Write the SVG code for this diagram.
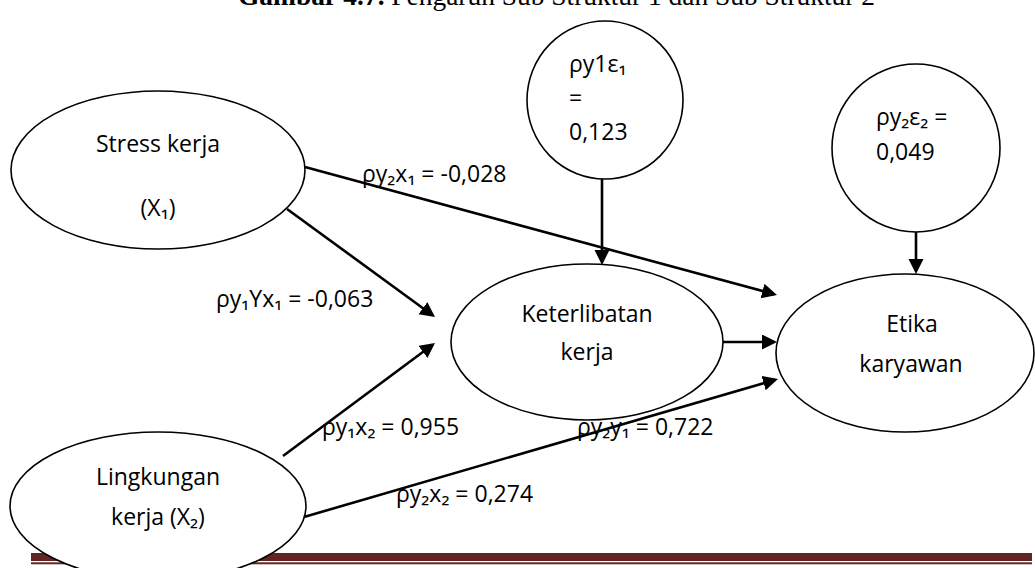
<svg xmlns="http://www.w3.org/2000/svg" width="1035" height="568" viewBox="0 0 1035 568">
<defs>
<marker id="ah" markerUnits="userSpaceOnUse" viewBox="0 0 16 16" markerWidth="16" markerHeight="16" refX="12" refY="7.5" orient="auto"><path d="M0,0 L15,7.5 L0,15 z" fill="#000"/></marker>
</defs>
<style>
.n{fill:#fff;stroke:#000;stroke-width:1.6}
.t{font-family:"Open Sans","Noto Sans",sans-serif;font-size:23px;fill:#000}
.m{text-anchor:middle}
.c{stroke:#000;stroke-width:2.6;fill:none;marker-end:url(#ah)}
.bar{fill:#632524}
</style>
<rect width="1035" height="568" fill="#fff"/>
<text id="title" x="238" y="5" textLength="637" lengthAdjust="spacingAndGlyphs" style="font-family:'Liberation Serif','Times New Roman',serif;font-size:27.7px;fill:#000"><tspan font-weight="bold">Gambar 4.7.</tspan> Pengaruh Sub Struktur 1 dan Sub Struktur 2</text>
<g id="footer-rule">
<rect class="bar" x="31" y="553" width="1001" height="8"/>
<rect class="bar" x="31" y="562.3" width="1001" height="2"/>
</g>
<g id="node-stress">
<ellipse class="n" cx="158" cy="170" rx="147" ry="79"/>
<text class="t m" x="158" y="152">Stress kerja</text>
<text class="t m" x="158" y="216">(X₁)</text>
</g>
<g id="node-lingkungan">
<ellipse class="n" cx="158" cy="506" rx="148" ry="74"/>
<text class="t m" x="158" y="485">Lingkungan</text>
<text class="t m" x="158" y="525">kerja (X₂)</text>
</g>
<g id="node-keterlibatan">
<ellipse class="n" cx="587" cy="342" rx="136" ry="78"/>
<text class="t m" x="587" y="322">Keterlibatan</text>
<text class="t m" x="587" y="360">kerja</text>
</g>
<g id="node-etika">
<ellipse class="n" cx="905" cy="353" rx="129" ry="79"/>
<text class="t m" x="912" y="332">Etika</text>
<text class="t m" x="911" y="372">karyawan</text>
</g>
<g id="node-e1">
<ellipse class="n" cx="605" cy="100" rx="78" ry="79"/>
<text class="t" x="569" y="72">ρy1ε₁</text>
<text class="t" x="569" y="106">=</text>
<text class="t" x="569" y="140">0,123</text>
</g>
<g id="node-e2">
<ellipse class="n" cx="916" cy="148" rx="84" ry="84"/>
<text class="t" x="876" y="125">ρy₂ε₂ =</text>
<text class="t" x="876" y="160">0,049</text>
</g>
<g id="connectors">
<line class="c" x1="287" y1="209" x2="432.6" y2="315.2"/>
<line class="c" x1="305" y1="167" x2="774.1" y2="294.2"/>
<line class="c" x1="283" y1="456" x2="432.6" y2="344.8"/>
<line class="c" x1="304" y1="517" x2="775.1" y2="379.8"/>
<line class="c" x1="723" y1="342" x2="774" y2="342"/>
<line class="c" x1="602" y1="179" x2="602" y2="262"/>
<line class="c" x1="916" y1="232" x2="916" y2="271"/>
</g>
<g id="connector-labels">
<text class="t" x="362" y="182">ρy₂x₁ = -0,028</text>
<text class="t" x="216" y="307">ρy₁Yx₁ = -0,063</text>
<text class="t" x="322" y="435">ρy₁x₂ = 0,955</text>
<text class="t" x="577" y="435">ρy₂y₁ = 0,722</text>
<text class="t" x="396" y="502">ρy₂x₂ = 0,274</text>
</g>
</svg>
